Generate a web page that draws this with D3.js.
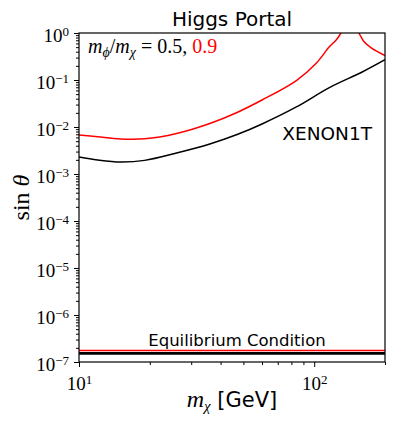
<!DOCTYPE html>
<html>
<head>
<meta charset="utf-8">
<script src="https://cdn.jsdelivr.net/npm/d3@7"></script>
<style>
  body { margin: 0; background: #fff; }
  svg { display: block; }
  .tick text { font-family: "Liberation Serif", serif; }
</style>
</head>
<body>
<svg id="viz"></svg>
<script>
// ----------------------- DATA
// XENON1T limit, m_phi / m_chi = 0.5 (black)
const massHalf = [10, 12, 15, 19, 26, 36, 47, 60, 84, 116, 160, 200];
const sinHalf = [2.3e-3, 1.99e-3, 1.8e-3, 1.95e-3, 2.8e-3, 4.35e-3, 6.9e-3, 0.0116, 0.0267, 0.069, 0.148, 0.27];

// XENON1T limit, m_phi / m_chi = 0.9 (red), goes off the top near the resonance
const massNine = [10, 12, 15, 19, 26, 36, 47, 60, 84, 102, 116, 124, 130, 140, 155, 158, 163, 176, 200];
const sinNine = [6.8e-3, 6.2e-3, 5.55e-3, 5.6e-3, 7.3e-3, 0.0119, 0.0204, 0.0375, 0.0975, 0.227, 0.51, 0.71, 1.0, null, 1.0, 0.835, 0.65, 0.47, 0.33];

// equilibrium condition (flat)
const massEq = [10, 200];
const eqHalf = [1.52e-7, 1.52e-7];
const eqNine = [1.76e-7, 1.76e-7];

const yMajor = [1e-7, 1e-6, 1e-5, 1e-4, 1e-3, 1e-2, 1e-1, 1];
const xMajor = [10, 100];
const xMinor = [20, 30, 40, 50, 60, 70, 80, 90, 200];

// ----------------------- SETTINGS
const W = 399, H = 430;
const margin = { top: 33, right: 14, bottom: 68, left: 79 };
const width = W - margin.left - margin.right;
const height = H - margin.top - margin.bottom;

const svg = d3.select('#viz').attr('width', W).attr('height', H);
const chart = svg.append('g').attr('transform', `translate(${margin.left}, ${margin.top})`);

const x = d3.scaleLog().domain([10, 200]).range([0, width]);
const y = d3.scaleLog().domain([1e-7, 1]).range([height, 0]);

// minor y ticks 2..9 in every decade
const yMinor = [];
yMajor.slice(0, -1).forEach(d => {
  for (let k = 2; k <= 9; k++) yMinor.push(d * k);
});

const supFmt = p => String(p).replace('-', '\u2212');

// ----------------------- AXES
const yAxisMinor = d3.axisLeft(y).tickValues(yMinor).tickSize(3).tickFormat('');
const yAxisMajor = d3.axisLeft(y).tickValues(yMajor).tickSize(5).tickPadding(5)
  .tickFormat(d => Math.round(Math.log10(d)));
const xAxisMinor = d3.axisBottom(x).tickValues(xMinor).tickSize(3).tickFormat('');
const xAxisMajor = d3.axisBottom(x).tickValues(xMajor).tickSize(5).tickPadding(4)
  .tickFormat(d => Math.round(Math.log10(d)));

chart.append('g').call(yAxisMinor);
const gy = chart.append('g').call(yAxisMajor);
chart.append('g').attr('transform', `translate(0, ${height})`).call(xAxisMinor);
const gx = chart.append('g').attr('transform', `translate(0, ${height})`).call(xAxisMajor);

chart.selectAll('.domain').remove();
chart.selectAll('.tick line').attr('stroke', '#000').attr('stroke-width', 1);

// labels as 10^p
function powLabels(g) {
  g.selectAll('.tick text').each(function (d) {
    const p = Math.round(Math.log10(d));
    const t = d3.select(this).text('').style('font-size', '19px').attr('fill', '#000');
    t.append('tspan').text('10');
    t.append('tspan').text(supFmt(p)).attr('dy', '-0.5em').style('font-size', '13px');
  });
}
powLabels(gy);
powLabels(gx);
gy.selectAll('.tick text').attr('dy', '0.45em');
gx.selectAll('.tick text').attr('dy', '1em');

// ----------------------- CURVES
svg.append('clipPath').attr('id', 'clip')
  .append('rect').attr('width', width).attr('height', height);

const plot = chart.append('g').attr('clip-path', 'url(#clip)');

const line = d3.line()
  .defined(d => d.v != null)
  .x(d => x(d.m))
  .y(d => y(d.v))
  .curve(d3.curveCatmullRom.alpha(0.5));

const zip = (ms, vs) => ms.map((m, i) => ({ m: m, v: vs[i] }));

plot.append('path').datum(zip(massHalf, sinHalf))
  .attr('d', line).attr('fill', 'none').attr('stroke', '#000').attr('stroke-width', 1.5);
plot.append('path').datum(zip(massNine, sinNine))
  .attr('d', line).attr('fill', 'none').attr('stroke', '#ff0000').attr('stroke-width', 1.5);
plot.append('path').datum(zip(massEq, eqHalf))
  .attr('d', line).attr('fill', 'none').attr('stroke', '#000').attr('stroke-width', 2.8);
plot.append('path').datum(zip(massEq, eqNine))
  .attr('d', line).attr('fill', 'none').attr('stroke', '#ff0000').attr('stroke-width', 1.5);

// frame
chart.append('rect').attr('width', width).attr('height', height)
  .attr('fill', 'none').attr('stroke', '#000').attr('stroke-width', 1.2);

// ----------------------- TEXT
const sans = '"DejaVu Sans", sans-serif';
const serif = '"Liberation Serif", serif';

svg.append('text').attr('x', margin.left + width / 2).attr('y', 26)
  .attr('text-anchor', 'middle').style('font-family', sans).style('font-size', '20px')
  .text('Higgs Portal');

chart.append('text').attr('x', 293).attr('y', 107)
  .attr('text-anchor', 'end').style('font-family', sans).style('font-size', '18.5px')
  .text('XENON1T');

chart.append('text').attr('x', 158).attr('y', 313)
  .attr('text-anchor', 'middle').style('font-family', sans).style('font-size', '16.5px')
  .text('Equilibrium Condition');

// ratio annotation
const ann = chart.append('text').attr('x', 9).attr('y', 20)
  .style('font-family', serif).style('font-size', '20px');
ann.append('tspan').text('m').style('font-style', 'italic');
ann.append('tspan').text('\u03d5').style('font-style', 'italic').style('font-size', '14px').attr('dy', 4);
ann.append('tspan').text('/').attr('dy', -4);
ann.append('tspan').text('m').style('font-style', 'italic');
ann.append('tspan').text('\u03c7').style('font-style', 'italic').style('font-size', '14px').attr('dy', 4);
ann.append('tspan').text(' = 0.5, ').attr('dy', -4);
ann.append('tspan').text('0.9').attr('fill', '#ff0000');

// axis titles
const xl = svg.append('text').attr('x', margin.left + width / 2).attr('y', 407)
  .attr('text-anchor', 'middle').style('font-size', '21px');
xl.append('tspan').text('m').style('font-family', serif).style('font-style', 'italic').style('font-size', '24px');
xl.append('tspan').text('\u03c7').style('font-family', serif).style('font-style', 'italic').style('font-size', '15px').attr('dy', 4);
xl.append('tspan').text(' [GeV]').style('font-family', sans).attr('dy', -4);

svg.append('text')
  .attr('transform', `translate(29, ${margin.top + height / 2}) rotate(-90)`)
  .attr('text-anchor', 'middle').style('font-family', serif).style('font-size', '24px')
  .html('sin <tspan font-style="italic">\u03b8</tspan>');
</script>
</body>
</html>
